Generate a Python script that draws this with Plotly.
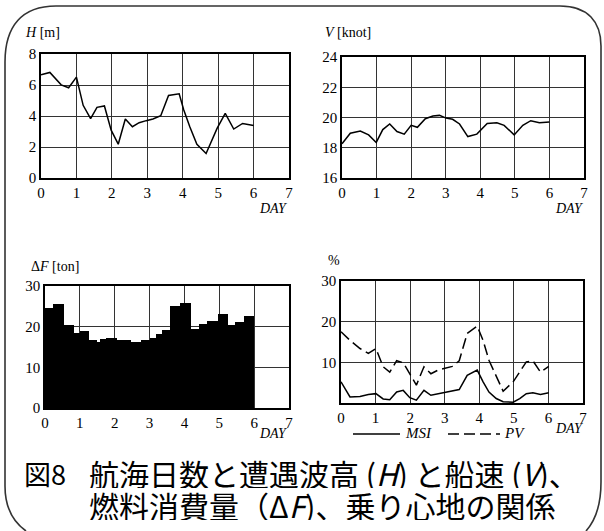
import plotly.graph_objects as go

W, H = 604, 531

# ---------------- data ----------------
h_day = [0, 0.25, 0.57, 0.78, 1.0, 1.19, 1.4, 1.58, 1.79, 1.98, 2.18, 2.38, 2.58, 2.77,
         2.97, 3.16, 3.38, 3.6, 3.9, 4.03, 4.2, 4.4, 4.66, 4.97, 5.2, 5.44, 5.69, 6.0]
h_val = [6.66, 6.81, 6.01, 5.82, 6.51, 4.69, 3.83, 4.56, 4.65, 3.09, 2.18, 3.81, 3.31, 3.57,
         3.70, 3.81, 4.02, 5.32, 5.43, 4.39, 3.31, 2.18, 1.58, 3.2, 4.17, 3.16, 3.52, 3.39]

v_day = [0, 0.24, 0.53, 0.77, 0.99, 1.18, 1.38, 1.59, 1.8, 2.0, 2.18, 2.41, 2.63, 2.82,
         3.01, 3.2, 3.4, 3.64, 3.9, 4.2, 4.48, 4.69, 4.98, 5.23, 5.46, 5.71, 6.0]
v_val = [18.26, 18.96, 19.11, 18.85, 18.35, 19.2, 19.57, 19.07, 18.9, 19.48, 19.35, 19.92, 20.1, 20.14,
         19.96, 19.88, 19.57, 18.74, 18.9, 19.6, 19.65, 19.48, 18.85, 19.48, 19.79, 19.65, 19.7]

f_edges = [0, 0.24, 0.55, 0.83, 0.99, 1.26, 1.50, 1.58, 1.75, 2.06, 2.46, 2.75, 3.02,
           3.19, 3.37, 3.59, 3.88, 4.19, 4.43, 4.66, 4.95, 5.25, 5.44, 5.70, 6.0]
f_val = [24.6, 25.6, 20.4, 18.4, 19.0, 16.7, 16.3, 16.9, 17.1, 16.7, 16.2, 16.7,
         17.3, 18.2, 19.1, 25.1, 25.9, 19.4, 20.6, 21.4, 23.1, 20.4, 21.1, 22.6]

s_day = [0, 0.26, 0.55, 0.79, 1.01, 1.22, 1.41, 1.61, 1.8, 1.99, 2.18, 2.4, 2.6, 2.81,
         3.02, 3.22, 3.42, 3.65, 3.94, 4.11, 4.28, 4.49, 4.69, 4.98, 5.17, 5.36, 5.55, 5.77, 6.01]
msi_val = [5.2, 1.5, 1.6, 2.1, 2.3, 1.0, 0.8, 2.7, 3.1, 1.3, 0.7, 3.1, 1.9, 2.3,
           2.6, 2.9, 3.3, 6.8, 8.1, 5.2, 2.7, 1.1, 0.3, 0.2, 1.1, 2.3, 2.5, 2.1, 2.5]
pv_val = [17.5, 15.4, 13.4, 12.2, 13.4, 8.9, 7.6, 10.4, 9.9, 7.2, 4.4, 8.9, 7.2, 8.1,
          8.6, 9.0, 10.4, 17.1, 18.9, 15.4, 10.5, 6.8, 2.9, 5.2, 7.6, 10.1, 10.4, 7.6, 9.0]

series_names = ["MSI", "PV"]

x_ticks = [0, 1, 2, 3, 4, 5, 6, 7]
h_ticks = [0, 2, 4, 6, 8]
v_ticks = [16, 18, 20, 22, 24]
f_ticks = [0, 10, 20, 30]
s_ticks = [10, 20, 30]

# ---------------- figure ----------------
SERIF = "Liberation Serif, Times New Roman, serif"
JP = "Noto Sans CJK JP"
TICKFONT = dict(family=SERIF, size=15, color="black")
DASH = "11px,5px"


def dom_x(a, b):
    return [a / W, b / W]


def dom_y(top, bottom):
    return [1 - bottom / H, 1 - top / H]


fig = go.Figure()

f_x = [(f_edges[i] + f_edges[i + 1]) / 2 for i in range(len(f_val))]
f_w = [f_edges[i + 1] - f_edges[i] for i in range(len(f_val))]

fig.add_trace(go.Scatter(x=h_day, y=h_val, mode="lines", line=dict(color="black", width=1.5),
                         xaxis="x", yaxis="y"))
fig.add_trace(go.Scatter(x=v_day, y=v_val, mode="lines", line=dict(color="black", width=1.5),
                         xaxis="x2", yaxis="y2"))
fig.add_trace(go.Bar(x=f_x, y=f_val, width=f_w, marker=dict(color="black", line=dict(width=0)),
                     xaxis="x3", yaxis="y3"))
fig.add_trace(go.Scatter(x=s_day, y=msi_val, mode="lines", name=series_names[0],
                         line=dict(color="black", width=1.5), xaxis="x4", yaxis="y4"))
fig.add_trace(go.Scatter(x=s_day, y=pv_val, mode="lines", name=series_names[1],
                         line=dict(color="black", width=1.5, dash=DASH), xaxis="x4", yaxis="y4"))


def xa(domain, anchor):
    return dict(domain=domain, anchor=anchor, range=[0, 7], tickvals=x_ticks,
                ticktext=[str(t) for t in x_ticks], showgrid=True, gridcolor="#333", gridwidth=1,
                showline=True, linecolor="black", linewidth=1.6, mirror=True, ticks="",
                zeroline=False, tickfont=TICKFONT, fixedrange=True, automargin=False)


def ya(domain, anchor, rng, tv):
    return dict(domain=domain, anchor=anchor, range=rng, tickvals=tv,
                ticktext=[str(t) for t in tv], showgrid=True, gridcolor="#333", gridwidth=1,
                showline=True, linecolor="black", linewidth=1.6, mirror=True, ticks="",
                zeroline=False, tickfont=TICKFONT, fixedrange=True, automargin=False)


fig.update_layout(
    width=W, height=H, margin=dict(l=0, r=0, t=0, b=0, autoexpand=False),
    paper_bgcolor="white", plot_bgcolor="white", bargap=0, showlegend=False,
    xaxis=xa(dom_x(41, 289), "y"),
    yaxis=ya(dom_y(54, 178), "x", [0, 8], h_ticks),
    xaxis2=xa(dom_x(342, 584), "y2"),
    yaxis2=ya(dom_y(57, 178), "x2", [16, 24], v_ticks),
    xaxis3=xa(dom_x(45, 289), "y3"),
    yaxis3=ya(dom_y(286, 408), "x3", [0, 30], f_ticks),
    xaxis4=xa(dom_x(341, 583), "y4"),
    yaxis4=ya(dom_y(281, 403), "x4", [0, 30], s_ticks),
)


def ann(text, x, y, xanchor="left", size=14, family=SERIF, height=None):
    kw = {}
    if height is not None:
        kw["height"] = height
    fig.add_annotation(text=text, x=x / W, y=1 - y / H, xref="paper", yref="paper",
                       xanchor=xanchor, yanchor="middle", showarrow=False, borderpad=0,
                       font=dict(family=family, size=size, color="black"), **kw)


ann("<i>H</i> [m]", 24, 33)
ann("<i>V</i> [knot]", 324, 33)
ann("Δ<i>F</i> [ton]", 30, 266)
ann("%", 327, 260)
ann("<i>DAY</i>", 289, 208, xanchor="right")
ann("<i>DAY</i>", 585, 208, xanchor="right")
ann("<i>DAY</i>", 289, 433, xanchor="right")
ann("<i>DAY</i>", 585, 428, xanchor="right")

# legend key of the % panel (sample lines + labels)
for (x0, x1, dash, label, tx) in [(353, 400, "solid", series_names[0], 404),
                                  (448, 500, DASH, series_names[1], 503)]:
    fig.add_shape(type="line", xref="paper", yref="paper", x0=x0 / W, x1=x1 / W,
                  y0=1 - 434 / H, y1=1 - 434 / H, line=dict(color="black", width=1.5, dash=dash))
    ann(f"<i>{label}</i>", tx, 433, size=15)

# caption
ann("図8", 23, 473, size=27, family=JP, height=30)
ann("航海日数と遭遇波高 (<i>H</i>) と船速 (<i>V</i>)、", 88, 473, size=30, family=JP, height=30)
ann("燃料消費量（Δ<i>F</i>)、乗り心地の関係", 88, 505, size=30, family=JP, height=30)


# rounded frame around everything
def P(x, y):
    return f"{x / W:.5f},{1 - y / H:.5f}"


frame = ("M " + P(26, 531) + " C " + P(12, 521) + " " + P(5, 506) + " " + P(5, 486)
         + " L " + P(5, 62) + " C " + P(5, 26) + " " + P(22, 6) + " " + P(56, 6)
         + " L " + P(560, 6) + " C " + P(588, 6) + " " + P(601, 22) + " " + P(601, 46)
         + " L " + P(601, 482) + " C " + P(601, 506) + " " + P(595, 521) + " " + P(586, 531))
fig.add_shape(type="path", path=frame, xref="paper", yref="paper",
              line=dict(color="#333", width=1.6))

fig.write_html("out.html", config={"displayModeBar": False},
               post_script="document.body.style.margin='0';document.body.style.padding='0';"
                           "document.body.style.overflow='hidden';")
